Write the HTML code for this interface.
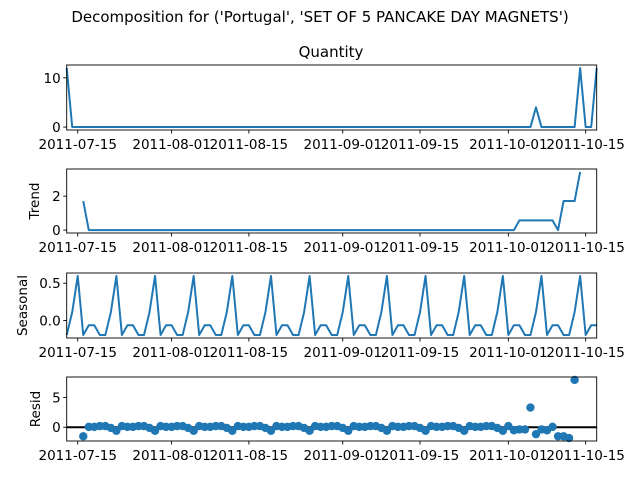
<!DOCTYPE html>
<html><head><meta charset="utf-8"><style>
body{margin:0;background:#fff}
svg{display:block;font-family:"DejaVu Sans","Liberation Sans",sans-serif}
</style></head><body>
<svg id="chart" width="640" height="480" viewBox="0 0 640 480" xmlns="http://www.w3.org/2000/svg">
<rect width="640" height="480" fill="#fff"/>
<text x="320" y="22" font-size="15" text-anchor="middle">Decomposition for ('Portugal', 'SET OF 5 PANCAKE DAY MAGNETS')</text>
<text x="331" y="57" font-size="15" text-anchor="middle">Quantity</text>
<g id="plots"></g>
</svg>
<script>
// day offsets relative to 2011-07-15 (start 2011-07-13, 97 daily points)
const startDay = -2;
const observed = [12,0,0,0,0,0,0,0,0,0,0,0,0,0,0,0,0,0,0,0,0,0,0,0,0,0,0,0,0,0,0,0,0,0,0,0,0,0,0,0,0,0,0,0,0,0,0,0,0,0,0,0,0,0,0,0,0,0,0,0,0,0,0,0,0,0,0,0,0,0,0,0,0,0,0,0,0,0,0,0,0,0,0,0,0,4,0,0,0,0,0,0,0,12,0,0,12];
const trendValues = [null,null,null,1.714,0,0,0,0,0,0,0,0,0,0,0,0,0,0,0,0,0,0,0,0,0,0,0,0,0,0,0,0,0,0,0,0,0,0,0,0,0,0,0,0,0,0,0,0,0,0,0,0,0,0,0,0,0,0,0,0,0,0,0,0,0,0,0,0,0,0,0,0,0,0,0,0,0,0,0,0,0,0,0.571,0.571,0.571,0.571,0.571,0.571,0.571,0,1.714,1.714,1.714,3.429,null,null,null];
const seasonalCycle = [0.597,-0.194,-0.063,-0.063,-0.194,-0.194,0.113]; // index = day mod 7
const residValues = [null,null,null,-1.52,0.063,0.063,0.194,0.194,-0.113,-0.597,0.194,0.063,0.063,0.194,0.194,-0.113,-0.597,0.194,0.063,0.063,0.194,0.194,-0.113,-0.597,0.194,0.063,0.063,0.194,0.194,-0.113,-0.597,0.194,0.063,0.063,0.194,0.194,-0.113,-0.597,0.194,0.063,0.063,0.194,0.194,-0.113,-0.597,0.194,0.063,0.063,0.194,0.194,-0.113,-0.597,0.194,0.063,0.063,0.194,0.194,-0.113,-0.597,0.194,0.063,0.063,0.194,0.194,-0.113,-0.597,0.194,0.063,0.063,0.194,0.194,-0.113,-0.597,0.194,0.063,0.063,0.194,0.194,-0.113,-0.597,0.194,-0.508,-0.377,-0.377,3.316,-1.168,-0.377,-0.508,0.063,-1.52,-1.52,-1.827,7.974,null,null,null];
const xTickDays = [0,17,31,48,62,78,92];
const xTickLabels = ["2011-07-15","2011-08-01","2011-08-15","2011-09-01","2011-09-15","2011-10-01","2011-10-15"];
const obsTicks = [0,10], trendTicks = [0,2], seasTicks = [0,0.5], residTicks = [0,5];
const seasTickLabels = ["0.0","0.5"];

const NS="http://www.w3.org/2000/svg";
const root=document.getElementById('plots');
const X0=66.7, X1=596.7, D0=-2, D1=94;
const xs=d=>X0+(d-D0)/(D1-D0)*(X1-X0);
function mk(tag,attrs,parent){const e=document.createElementNS(NS,tag);for(const k in attrs)e.setAttribute(k,attrs[k]);(parent||root).appendChild(e);return e;}

function panel(name,top,bottom,vals,ticks,tickLabels,ylabel,labelX,kind){
  const g=mk('g',{});
  
  
  const nums=vals.filter(v=>v!==null);
  let mn=Math.min(...nums), mx=Math.max(...nums); const pad=(mx-mn)*0.05; mn-=pad; mx+=pad;
  const ys=v=>bottom-(v-mn)/(mx-mn)*(bottom-top);
  if(kind==='dots'){
    const zl=mk('line',{x1:X0,x2:X1,y1:ys(0),y2:ys(0),stroke:'#000','stroke-width':2},g);
    
    
    vals.forEach((v,i)=>{ if(v===null)return;
      const c=mk('circle',{cx:xs(startDay+i),cy:ys(v),r:4.2,fill:'#1f77b4'},g);
      
      
    });
  } else {
    let d='',pen=false;
    vals.forEach((v,i)=>{ if(v===null){pen=false;return;} d+=(pen?'L':'M')+xs(startDay+i).toFixed(2)+' '+ys(v).toFixed(2); pen=true;});
    const p=mk('path',{d:d,fill:'none',stroke:'#1f77b4','stroke-width':2,'stroke-linejoin':'round'},g);
    
    
  }
  const fr=mk('rect',{x:X0,y:top,width:X1-X0,height:bottom-top,fill:'none',stroke:'#000','stroke-width':0.9},g);
  
  
  ticks.forEach((t,i)=>{
    const y=ys(t);
    mk('line',{x1:X0-3.5,x2:X0,y1:y,y2:y,stroke:'#000','stroke-width':0.9},g);
    const tx=mk('text',{x:X0-6,y:y+5,'font-size':13.5,'text-anchor':'end'},g);
    tx.textContent=tickLabels?tickLabels[i]:String(t);
    
    
  });
  xTickDays.forEach((d,i)=>{
    const x=xs(d);
    mk('line',{x1:x,x2:x,y1:bottom,y2:bottom+3.5,stroke:'#000','stroke-width':0.9},g);
    const tx=mk('text',{x:x,y:bottom+19,'font-size':13.5,'text-anchor':'middle'},g);
    tx.textContent=xTickLabels[i];
    
    
  });
  if(ylabel){
    const cy=(top+bottom)/2;
    const yl=mk('text',{x:labelX,y:cy,'font-size':13.5,'text-anchor':'middle',transform:`rotate(-90 ${labelX} ${cy})`},g);
    yl.textContent=ylabel;
    
    
  }
}
const seasonalValues = observed.map((_,i)=>seasonalCycle[(((startDay+i)%7)+7)%7]);
panel('observed',65,130,observed,obsTicks,null,null,0,'line');
panel('trend',169,233,trendValues,trendTicks,null,'Trend',39,'line');
panel('seasonal',273,338,seasonalValues,seasTicks,seasTickLabels,'Seasonal',27,'line');
panel('resid',377,441,residValues,residTicks,null,'Resid',40,'dots');
</script>
</body></html>
